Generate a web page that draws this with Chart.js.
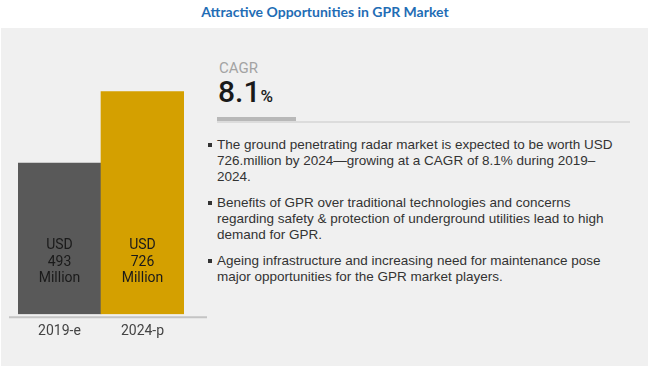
<!DOCTYPE html>
<html>
<head>
<meta charset="utf-8">
<script src="https://cdn.jsdelivr.net/npm/chart.js@4"></script>
<style>
  body { margin: 0; width: 650px; height: 369px; position: relative; background: #fff; overflow: hidden; }
  #title { position: absolute; top: 3px; left: 0; width: 650px; text-align: center;
           font: bold 14px Lato, "Open Sans", sans-serif; color: #1f6db5; }
  #panel { position: absolute; left: 1px; top: 28px; width: 647px; height: 338px; background: #f0f0f0; }
  #chartBox { position: absolute; left: 0; top: 0; width: 650px; height: 369px; }
  .narrow { font-family: "Liberation Sans Narrow", "Roboto", sans-serif; }
  #cagrLabel { position: absolute; left: 219px; top: 59px; font-size: 15px; color: #a3a3a3; }
  #cagrValue { position: absolute; left: 218px; top: 74px; font-size: 30px; font-weight: 500; color: #1a1a1a; }
  #cagrValue span { font-size: 17px; }
  #barDark { position: absolute; left: 217px; top: 117px; width: 79px; height: 4px; background: #b8b8b8; }
  #barLight { position: absolute; left: 217px; top: 121px; width: 413px; height: 2px; background: #dcdcdc; }
  #bullets { position: absolute; left: 208px; top: 137px; font: 13.5px "Liberation Sans", Arial, sans-serif; color: #333; }
  .item { position: relative; padding-left: 9px; line-height: 16px; margin-bottom: 10px; white-space: nowrap; }
  .item::before { content: ""; position: absolute; left: 0; top: 6px; width: 4px; height: 4px; background: #333; }
</style>
</head>
<body>
<div id="panel"></div>
<div id="title">Attractive Opportunities in GPR Market</div>
<div id="cagrLabel" class="narrow">CAGR</div>
<div id="cagrValue" class="narrow">8.1<span>%</span></div>
<div id="barDark"></div>
<div id="barLight"></div>
<div id="bullets">
  <div class="item">The ground penetrating radar market is expected to be worth USD<br>726.million by 2024—growing at a CAGR of 8.1% during 2019–<br>2024.</div>
  <div class="item">Benefits of GPR over traditional technologies and concerns<br>regarding safety &amp; protection of underground  utilities lead to high<br>demand for GPR.</div>
  <div class="item">Ageing infrastructure and increasing need for maintenance pose<br>major opportunities for the GPR market players.</div>
</div>
<div id="chartBox"><canvas id="gprChart"></canvas></div>
<script>
const years = ['2019-e', '2024-p'];
const marketSize = [493, 726];
const barColors = ['#595959', '#d4a000'];
const unitTop = 'USD';
const unitBottom = 'Million';

const labelFont = "'Liberation Sans Narrow', Roboto, sans-serif";

// baseline under the bars, a bit wider than the bars
const baseLine = {
    id: 'baseLine',
    afterDatasetsDraw(chart) {
        const { ctx, chartArea } = chart;
        ctx.save();
        ctx.strokeStyle = '#c4c4c4';
        ctx.lineWidth = 2;
        ctx.beginPath();
        ctx.moveTo(9, chartArea.bottom + 3);
        ctx.lineTo(207, chartArea.bottom + 3);
        ctx.stroke();
        ctx.restore();
    }
};

// "USD / value / Million" inside each bar
const barText = {
    id: 'barText',
    afterDatasetsDraw(chart) {
        const { ctx, chartArea } = chart;
        const meta = chart.getDatasetMeta(0);
        ctx.save();
        ctx.font = '14px ' + labelFont;
        ctx.fillStyle = '#1a1a1a';
        ctx.textAlign = 'center';
        ctx.textBaseline = 'middle';
        meta.data.forEach((bar, i) => {
            const b = chartArea.bottom;
            ctx.fillText(unitTop, bar.x, b - 69);
            ctx.fillText(String(marketSize[i]), bar.x, b - 52);
            ctx.fillText(unitBottom, bar.x, b - 36);
        });
        ctx.restore();
    }
};

const ctx = document.getElementById('gprChart').getContext('2d');

new Chart(ctx, {
    type: 'bar',
    data: {
        labels: years,
        datasets: [{
            data: marketSize,
            backgroundColor: barColors,
            borderWidth: 0,
            barPercentage: 1,
            categoryPercentage: 1
        }]
    },
    options: {
        responsive: true,
        maintainAspectRatio: false,
        animation: false,
        layout: { padding: { left: 18, right: 466, top: 69, bottom: 20 } },
        plugins: {
            legend: { display: false },
            tooltip: { enabled: false }
        },
        scales: {
            x: {
                grid: { display: false, drawTicks: false },
                border: { display: false },
                ticks: {
                    padding: 9,
                    color: '#444',
                    font: { family: labelFont, size: 14 }
                }
            },
            y: {
                display: false,
                min: 0,
                max: 800
            }
        }
    },
    plugins: [baseLine, barText]
});
</script>
</body>
</html>
